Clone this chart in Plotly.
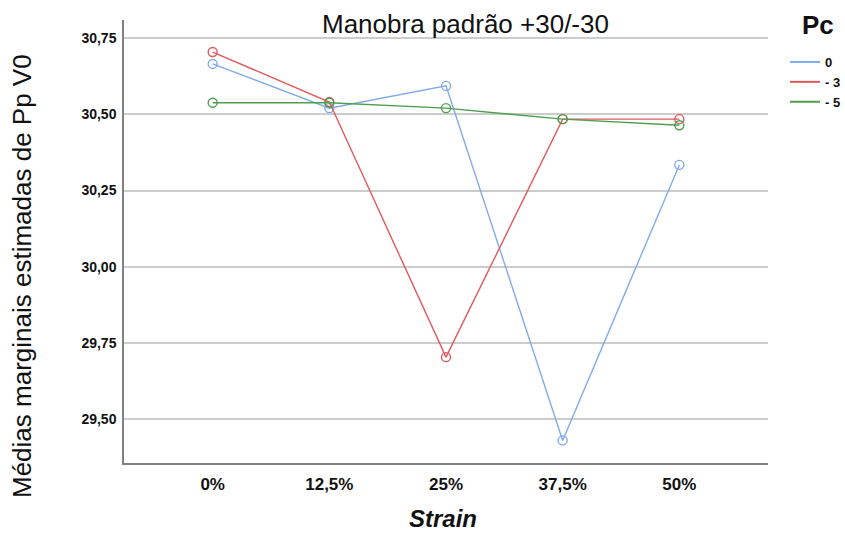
import plotly.graph_objects as go

categories = ["0%", "12,5%", "25%", "37,5%", "50%"]
pc_0 = [30.665, 30.520, 30.593, 29.431, 30.334]
pc_m3 = [30.704, 30.540, 29.704, 30.484, 30.484]
pc_m5 = [30.538, 30.538, 30.520, 30.484, 30.464]
series_names = ["0", "- 3", "- 5"]
series_values = [pc_0, pc_m3, pc_m5]
colors = ["#80abea", "#e05a5c", "#4f9e4f"]
y_ticks = [29.50, 29.75, 30.00, 30.25, 30.50, 30.75]

FONT = "Liberation Sans, Arial, sans-serif"

fig = go.Figure()
for name, vals, col in zip(series_names, series_values, colors):
    fig.add_trace(go.Scatter(
        x=categories, y=vals, mode="lines+markers", name=name,
        line=dict(color=col, width=1.4),
        marker=dict(symbol="circle-open", size=9, color=col, line=dict(width=1.4)),
        showlegend=False, cliponaxis=False,
    ))
# legend entries (lines only)
for name, col in zip(series_names, colors):
    fig.add_trace(go.Scatter(
        x=[None], y=[None], mode="lines", name=name,
        line=dict(color=col, width=2), showlegend=True,
    ))

L, R, T, B = 124, 77, 20, 70
fig.update_layout(
    width=845, height=533,
    margin=dict(l=L, r=R, t=T, b=B, autoexpand=False),
    paper_bgcolor="white", plot_bgcolor="white",
    separators=", ",
    font=dict(family=FONT, color="#222222"),
    showlegend=True,
    legend=dict(
        x=(785 - L) / (845 - L - R), y=(533 - B - 47) / (533 - T - B),
        xanchor="left", yanchor="top",
        font=dict(size=13, family=FONT, color="#111111", weight="bold"),
        tracegroupgap=0, itemwidth=30, bgcolor="rgba(0,0,0,0)",
    ),
)

pw, ph = 845 - L - R, 533 - T - B
def P(px, py):
    return (px - L) / pw, (533 - B - py) / ph

texts = [
    ("Manobra padrão +30/-30", 465, 24, 26, 0),
    ("<b>Pc</b>", 818, 25, 26, 0),
    ("Médias marginais estimadas de Pp V0", 22, 276, 26, -90),
    ("<b><i>Strain</i></b>", 443, 518, 24, 0),
]
anns = []
for t, px, py, sz, ang in texts:
    x, y = P(px, py)
    anns.append(dict(text=t, x=x, y=y, xref="paper", yref="paper",
                     xanchor="center", yanchor="middle", showarrow=False,
                     textangle=ang, font=dict(size=sz, family=FONT, color="#111111")))
fig.update_layout(annotations=anns)

fig.update_xaxes(
    type="category", range=[-0.76, 4.76],
    showgrid=False, showline=True, linecolor="#808080", linewidth=1.5,
    ticks="", ticklabelstandoff=5,
    tickfont=dict(size=17, family=FONT, color="#111111", weight="bold"),
    zeroline=False,
)
fig.update_yaxes(
    range=[29.357, 30.809], tickvals=y_ticks, tickformat=".2f",
    showgrid=True, gridcolor="#cccccc", gridwidth=1.5,
    showline=True, linecolor="#808080", linewidth=1.5,
    ticks="", ticklabelstandoff=3,
    tickfont=dict(size=14, family=FONT, color="#111111", weight="bold"),
    zeroline=False,
)

fig.write_html("out.html", config={"displayModeBar": False},
               post_script="document.body.style.margin='0';document.body.style.overflow='hidden';")
